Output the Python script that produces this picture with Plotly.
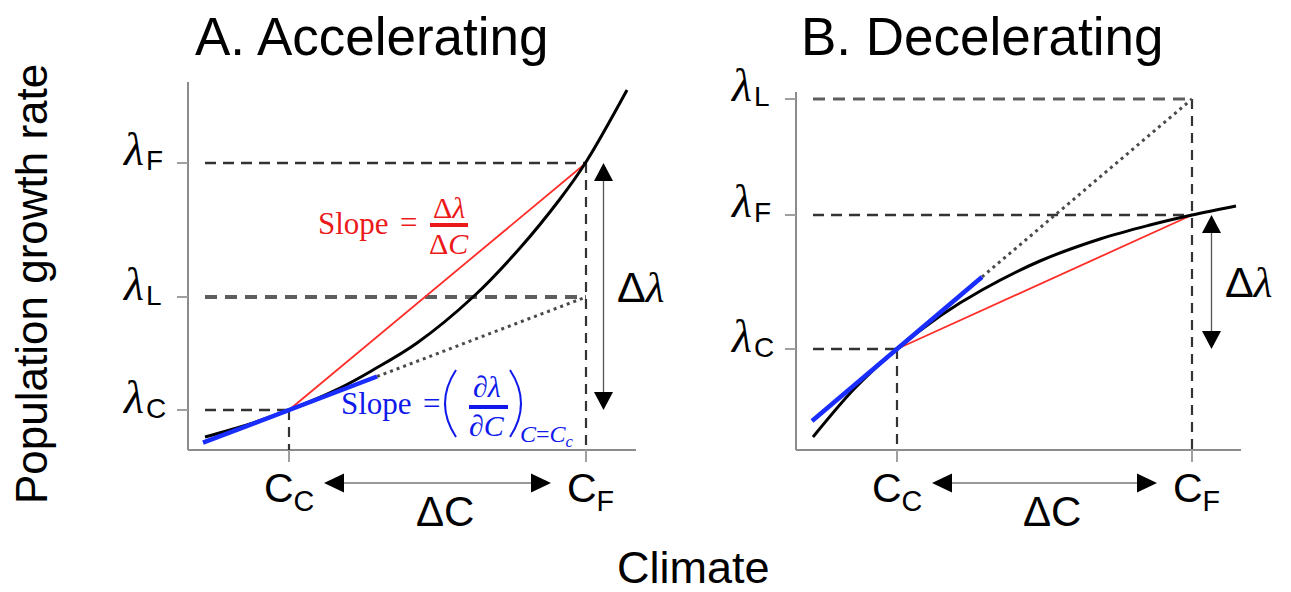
import plotly.graph_objects as go

W, H = 1291, 592

# ---------------- Panel A : Accelerating (axis units, origin at axes corner) ----
a_curve_x = [17, 62, 101, 152, 185, 229, 285, 332, 372, 398, 439]
a_curve_y = [13, 26, 40, 62, 80, 107, 153, 202, 251, 288, 360]
a_Cc, a_CF = 101, 398
a_lamC, a_lamL, a_lamF = 40, 153, 287
a_tan_x = [15, 189]
a_xmax, a_ymax = 448, 368

# ---------------- Panel B : Decelerating ---------------------------------------
b_curve_x = [17, 59, 101, 144, 186, 244, 304, 354, 396, 440]
b_curve_y = [13, 62, 101, 134, 160, 189, 211, 225, 235, 244]
b_Cc, b_CF = 101, 396
b_lamC, b_lamF, b_lamL = 101, 235, 351
b_tan_x = [16, 186]
b_xmax, b_ymax = 445, 358

titles = ["A. Accelerating", "B. Decelerating"]
ylabel = "Population growth rate"
xlabel = "Climate"

RED = "rgb(255,45,40)"
RED_T = "rgb(235,25,25)"
BLUE = "rgb(25,45,255)"
BLUE_T = "rgb(15,25,235)"
AXC = "#8c8c8c"
DARK = "#333333"
SANS = "Liberation Sans"
SERIF = "Liberation Serif"

fig = go.Figure()
annotations = []
shapes = []


def line(xr, yr, xs, ys, color, width, dash="solid", shape="linear"):
    fig.add_trace(go.Scatter(x=xs, y=ys, mode="lines", xaxis=xr, yaxis=yr,
                             line=dict(color=color, width=width, dash=dash, shape=shape),
                             hoverinfo="skip", showlegend=False))


def head(xr, yr, tx, ty, d, L=18, w=19):
    if d == "up":
        xs, ys = [tx, tx - w / 2, tx + w / 2], [ty, ty - L, ty - L]
    elif d == "down":
        xs, ys = [tx, tx - w / 2, tx + w / 2], [ty, ty + L, ty + L]
    elif d == "left":
        xs, ys = [tx, tx + L, tx + L], [ty, ty + w / 2, ty - w / 2]
    else:
        xs, ys = [tx, tx - L, tx - L], [ty, ty + w / 2, ty - w / 2]
    fig.add_trace(go.Scatter(x=xs + [xs[0]], y=ys + [ys[0]], mode="lines", fill="toself",
                             fillcolor="black", line=dict(width=0, color="black"),
                             xaxis=xr, yaxis=yr, hoverinfo="skip", showlegend=False))


def ann(xr, yr, x, y, text, size, color="black", family=SANS, xa="center", ya="middle"):
    annotations.append(dict(x=x, y=y, xref=xr, yref=yr, text=text, showarrow=False,
                            font=dict(size=size, color=color, family=family),
                            xanchor=xa, yanchor=ya))


def panel(xr, yr, cx, cy, Cc, CF, lamC, lamF, lamL, tan_x, xmax, ymax, accel):
    # axes
    line(xr, yr, [0, 0], [0, ymax], AXC, 2)
    line(xr, yr, [0, xmax], [0, 0], AXC, 2)
    # tick stubs
    for v in (lamC, lamF, lamL):
        line(xr, yr, [-11, 0], [v, v], "#a0a0a0", 2)
    for v in (Cc, CF):
        line(xr, yr, [v, v], [0, -12], "#a0a0a0", 2)
    # dashed guides
    line(xr, yr, [17, CF], [lamF, lamF], DARK, 2.5, "11px,7px")
    line(xr, yr, [17, Cc], [lamC, lamC], DARK, 2.5, "11px,7px")
    line(xr, yr, [17, CF], [lamL, lamL], "#5e5e5e", 3.8 if accel else 3.2, "12px,8px")
    line(xr, yr, [Cc, Cc], [lamC, 0], DARK, 2.2, "10px,7px")
    top = lamF if accel else lamL
    line(xr, yr, [CF, CF], [top, 0], DARK, 2.2, "10px,7px")
    # tangent / secant
    slope = (lamL - lamC) / (CF - Cc)
    ty = [lamC + slope * (x - Cc) for x in tan_x]
    line(xr, yr, [tan_x[1], CF], [ty[1], lamL], "#4a4a4a", 3, "3px,4px")
    line(xr, yr, [Cc, CF], [lamC, lamF], RED, 1.8)
    line(xr, yr, cx, cy, "black", 3, shape="spline")
    line(xr, yr, tan_x, ty, BLUE, 4.5)
    # delta-lambda arrow
    ax = 415.5
    line(xr, yr, [ax, ax], [lamC + 10, lamF - 10], "#555555", 1.3)
    head(xr, yr, ax, lamF, "up")
    head(xr, yr, ax, lamC, "down")
    ann(xr, yr, ax + 11, (lamC + lamF) / 2,
        "Δ<span style='font-family:Liberation Serif'><i>λ</i></span>", 43, xa="left")
    # delta-C arrow
    gap = 35
    ay = -33
    line(xr, yr, [Cc + gap + 10, CF - gap - 10], [ay, ay], "#777777", 1.3)
    head(xr, yr, Cc + gap, ay, "left", L=20, w=19)
    head(xr, yr, CF - gap, ay, "right", L=20, w=19)
    ann(xr, yr, (Cc + CF) / 2 + 7, -61, "ΔC", 42)
    # tick labels
    for v, s in ((lamC, "C"), (lamF, "F"), (lamL, "L")):
        ann(xr, yr, -42, v + 13, "<i>λ</i>", 46, family=SERIF, xa="right")
        ann(xr, yr, -44, v + 2, s, 28, xa="left")
    ann(xr, yr, Cc, -41, "C<sub>C</sub>", 41)
    ann(xr, yr, CF + 4, -41, "C<sub>F</sub>", 41)


panel("x", "y", a_curve_x, a_curve_y, a_Cc, a_CF, a_lamC, a_lamF, a_lamL,
      a_tan_x, a_xmax, a_ymax, True)
panel("x2", "y2", b_curve_x, b_curve_y, b_Cc, b_CF, b_lamC, b_lamF, b_lamL,
      b_tan_x, b_xmax, b_ymax, False)

# slope formulas (panel A)
ann("x", "y", 203, 226, "Slope", 31, RED_T, SERIF, xa="right")
ann("x", "y", 220, 227, "=", 31, RED_T, SERIF)
ann("x", "y", 261, 242, "Δ<i>λ</i>", 30, RED_T, SERIF)
ann("x", "y", 261, 206, "Δ<i>C</i>", 30, RED_T, SERIF)
shapes.append(dict(type="line", xref="x", yref="y", x0=242, x1=280, y0=225, y1=225,
                   line=dict(color=RED_T, width=4)))

ann("x", "y", 226, 47, "Slope", 31, BLUE_T, SERIF, xa="right")
ann("x", "y", 243, 47, "=", 31, BLUE_T, SERIF)
ann("x", "y", 299, 64, "∂<i>λ</i>", 30, BLUE_T, SERIF)
ann("x", "y", 299, 25, "∂<i>C</i>", 30, BLUE_T, SERIF)
shapes.append(dict(type="line", xref="x", yref="y", x0=281, x1=320, y0=43, y1=43,
                   line=dict(color=BLUE_T, width=4)))
shapes.append(dict(type="path", xref="x", yref="y", path="M 268,80 Q 246,46.5 268,13",
                   line=dict(color=BLUE_T, width=2)))
shapes.append(dict(type="path", xref="x", yref="y", path="M 322,80 Q 344,46.5 322,13",
                   line=dict(color=BLUE_T, width=2)))
ann("x", "y", 330, 14, "<i>C</i>=<i>C<sub>c</sub></i>", 24, BLUE_T, SERIF, xa="left")

# titles and axis titles
def paper_ann(x, y, text, size, angle=0):
    annotations.append(dict(x=x / W, y=1 - y / H, xref="paper", yref="paper", text=text,
                            showarrow=False, textangle=angle, xanchor="center",
                            yanchor="middle", font=dict(size=size, family=SANS, color="black")))


paper_ann(372, 36, titles[0], 53)
paper_ann(982, 36, titles[1], 53)
paper_ann(31, 284, ylabel, 44, angle=-90)
paper_ann(693, 567, xlabel, 45)

ax_common = dict(visible=False, showgrid=False, zeroline=False, fixedrange=True)
fig.update_layout(
    width=W, height=H, margin=dict(l=0, r=0, t=0, b=0),
    paper_bgcolor="white", plot_bgcolor="white", showlegend=False,
    xaxis=dict(domain=[100 / W, 690 / W], range=[-88, 502], **ax_common),
    yaxis=dict(domain=[52 / H, 532 / H], range=[-90, 390], **ax_common),
    xaxis2=dict(domain=[700 / W, 1.0], range=[-96, 495], anchor="y2", **ax_common),
    yaxis2=dict(domain=[52 / H, 532 / H], range=[-90, 390], anchor="x2", **ax_common),
    annotations=annotations, shapes=shapes,
)

fig.write_html("out.html")
